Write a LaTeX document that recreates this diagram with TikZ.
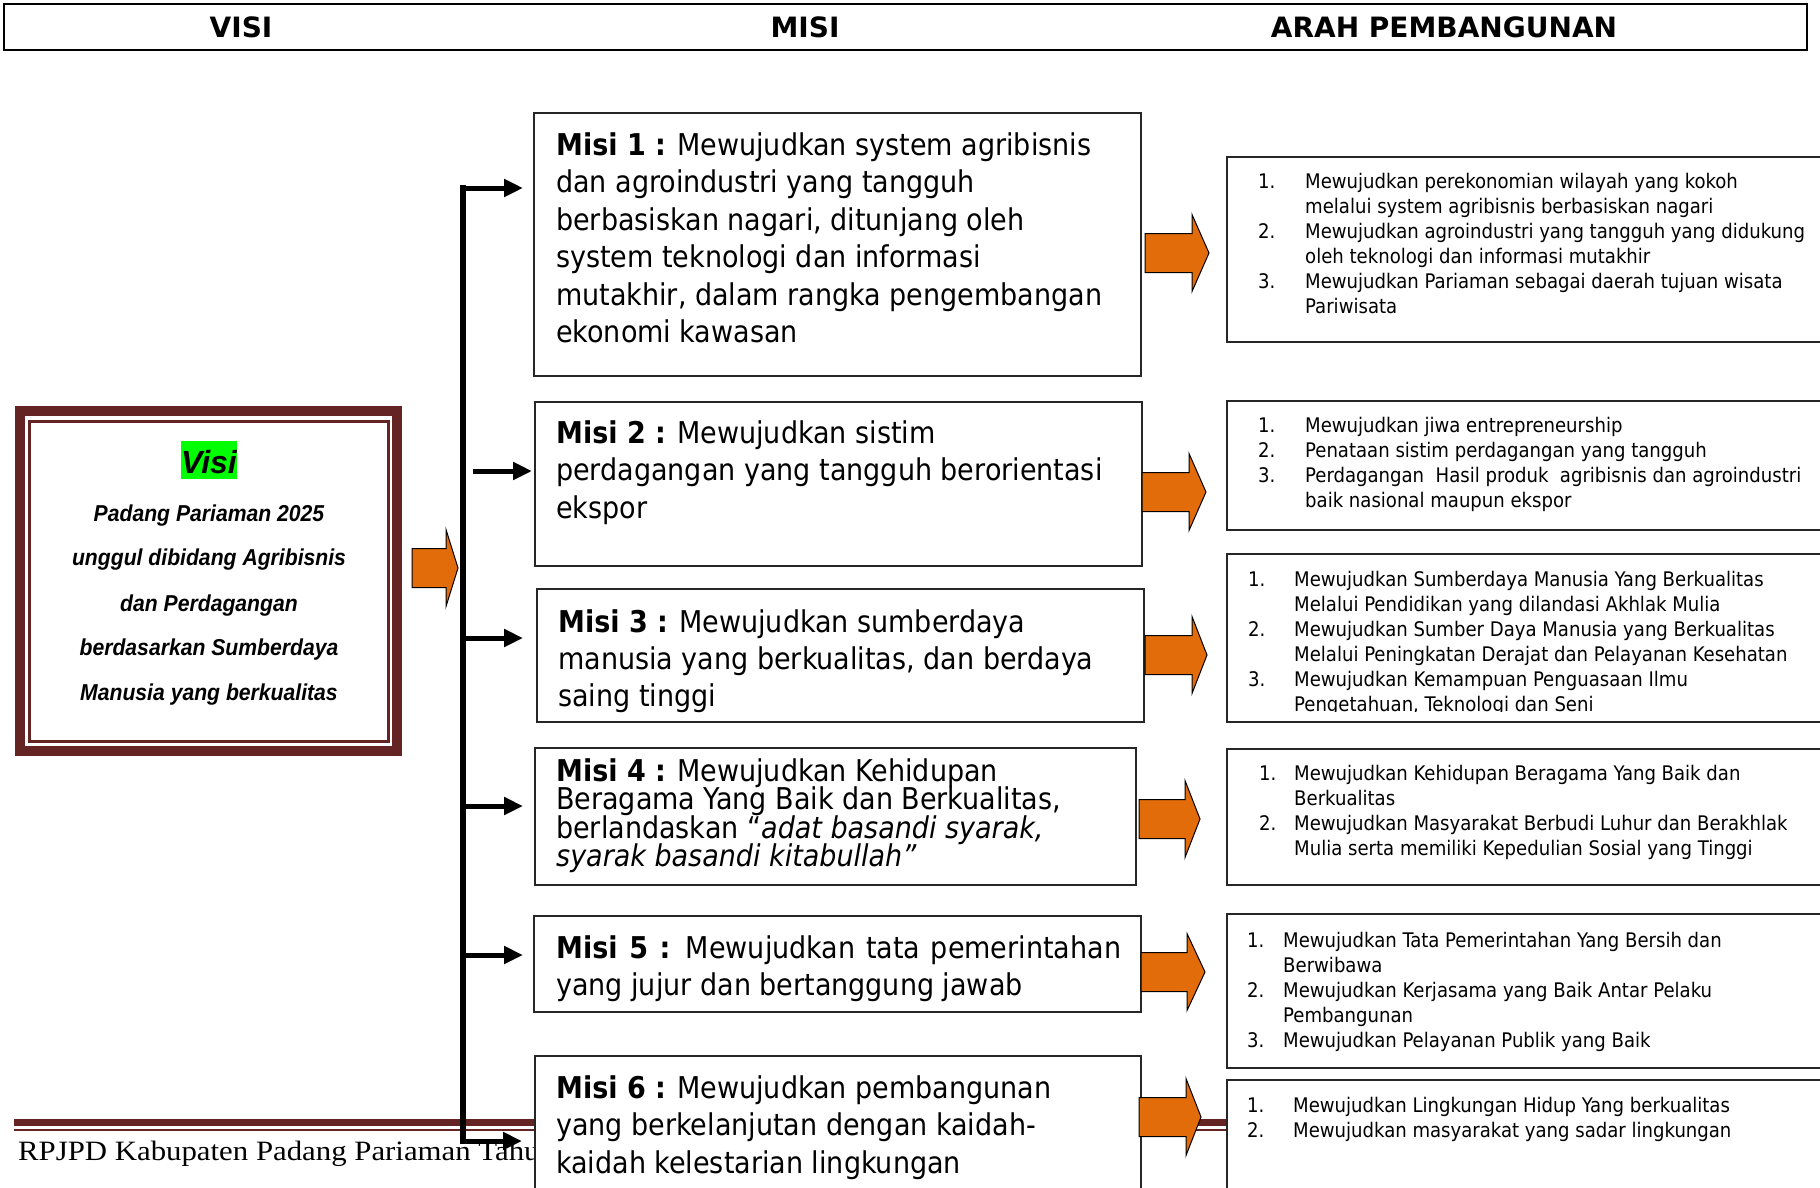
\documentclass[tikz,border=0pt]{standalone}
\usepackage{fontspec}
\usetikzlibrary{arrows.meta}
\newfontfamily\tah{DejaVu Sans Condensed}
\newfontfamily\hdrf{DejaVu Sans}
\newfontfamily\arlf{Liberation Sans}
\newfontfamily\arlc[FakeStretch=0.92]{Liberation Sans}
\newfontfamily\ftrf[FakeStretch=1.1]{Liberation Serif}
\definecolor{vred}{HTML}{632423}
\definecolor{orng}{HTML}{E36C0A}
\definecolor{hlgreen}{HTML}{00FF00}
\newcommand\mlines[1]{\vtop{\lineskiplimit=-100pt\relax\lineskip=0pt\relax\halign{##\hfil\cr#1\crcr}}}
\tikzset{
  mbox/.style={draw=black!85, line width=1.5pt, fill=white, inner sep=0pt, outer sep=0pt, anchor=north west},
  mtext/.style={anchor=base west, inner sep=0pt, font=\tah\fontsize{30}{37.5}\selectfont},
  atext/.style={anchor=base west, inner sep=0pt, font=\tah\fontsize{20.1}{25}\selectfont},
  vtext/.style={anchor=base, inner sep=0pt, font=\arlc\bfseries\itshape\fontsize{23}{28}\selectfont},
  htext/.style={anchor=base, inner sep=0pt, font=\hdrf\bfseries\fontsize{28}{32}\selectfont},
  branch/.style={line width=5pt, -{Triangle[length=19pt,width=17pt]}},
  trunkline/.style={line width=6.5pt, line cap=rect},
  orarr/.style={fill=orng, draw=black, line width=1pt, line join=miter},
}
\newcommand\oarrow[4]{%
  \filldraw[orarr] (#1,#2-19.5) -- (#3,#2-19.5) -- (#3,#2-38.5) -- (#4,#2) -- (#3,#2+38.5) -- (#3,#2+19.5) -- (#1,#2+19.5) -- cycle;}
\begin{document}
\begin{tikzpicture}[x=1pt,y=-1pt]
\useasboundingbox (0,0) rectangle (1820,1188);
\clip (0,0) rectangle (1820,1188);
\fill[white] (0,0) rectangle (1820,1188);

% footer
\draw[vred, line width=7pt] (14,1122.5) -- (1820,1122.5);
\draw[vred, line width=2pt] (14,1129.5) -- (1820,1129.5);
\node[anchor=base west, inner sep=0pt, font=\ftrf\fontsize{28}{32}\selectfont] (ftr) at (18,1160) {RPJPD Kabupaten Padang Pariaman Tahun};

% header
\node[draw=black, line width=2pt, inner sep=0pt, outer sep=0pt, anchor=north west, minimum width=1803pt, minimum height=46pt] (hdr) at (4,4) {};
\node[htext] (hvisi) at (241,38) {VISI};
\node[htext] (hmisi) at (805,38) {MISI};
\node[htext] (harah) at (1444,38) {ARAH PEMBANGUNAN};

% visi box
\node[draw=vred, line width=10pt, inner sep=0pt, outer sep=0pt, minimum width=377pt, minimum height=340pt, fill=white] (visi) at (208.5,581) {};
\node[draw=vred, line width=3pt, inner sep=0pt, outer sep=0pt, minimum width=358.5pt, minimum height=320pt] (visiin) at (208.75,581) {};
\node[fill=hlgreen, inner sep=0pt, minimum width=56pt, minimum height=38pt] (vhl) at (209,460) {};
\node[anchor=base, inner sep=0pt, font=\arlf\bfseries\itshape\fontsize{32}{38}\selectfont] (vt) at (209,473) {Visi};
\node[vtext] (v1) at (209,521) {Padang Pariaman 2025};
\node[vtext] (v2) at (209,565) {unggul dibidang Agribisnis};
\node[vtext] (v3) at (209,611) {dan Perdagangan};
\node[vtext] (v4) at (209,655) {berdasarkan Sumberdaya};
\node[vtext] (v5) at (209,700) {Manusia yang berkualitas};

% misi boxes
\node[mbox, minimum width=607pt, minimum height=263pt] (m1) at (534,113) {};
\node[mbox, minimum width=607pt, minimum height=164pt] (m2) at (535,402) {};
\node[mbox, minimum width=607pt, minimum height=133pt] (m3) at (537,589) {};
\node[mbox, minimum width=601pt, minimum height=137pt] (m4) at (535,748) {};
\node[mbox, minimum width=607pt, minimum height=96pt] (m5) at (534,916) {};
\node[mbox, minimum width=606pt, minimum height=160pt] (m6) at (535,1056) {};

\node[mtext] (m1t) at (556,155) {\mlines{\textbf{Misi 1 :} Mewujudkan system agribisnis\cr dan agroindustri yang tangguh\cr berbasiskan nagari, ditunjang oleh\cr system teknologi dan informasi\cr mutakhir, dalam rangka pengembangan\cr ekonomi kawasan}};
\node[mtext] (m2t) at (556,443) {\mlines{\textbf{Misi 2 :} Mewujudkan sistim\cr perdagangan yang tangguh berorientasi\cr ekspor}};
\node[mtext, font=\tah\fontsize{30}{37}\selectfont] (m3t) at (558,632) {\mlines{\textbf{Misi 3 :} Mewujudkan sumberdaya\cr manusia yang berkualitas, dan berdaya\cr saing tinggi}};
\node[mtext, font=\tah\fontsize{30}{28.5}\selectfont] (m4t) at (556,781) {\mlines{\textbf{Misi 4 :} Mewujudkan Kehidupan\cr Beragama Yang Baik dan Berkualitas,\cr berlandaskan “\textit{adat basandi syarak,}\cr \textit{syarak basandi kitabullah”}}};
\node[mtext, font=\tah\fontsize{30}{37.5}\selectfont] (m5t) at (556,958) {\mlines{\makebox[565pt][s]{\textbf{Misi 5 :} Mewujudkan tata pemerintahan}\cr yang jujur dan bertanggung jawab}};
\node[mtext] (m6t) at (556,1098) {\mlines{\textbf{Misi 6 :} Mewujudkan pembangunan\cr yang berkelanjutan dengan kaidah-\cr kaidah kelestarian lingkungan}};

% arah boxes
\node[mbox, minimum width=603pt, minimum height=185pt] (b1) at (1227,157) {};
\node[mbox, minimum width=603pt, minimum height=129pt] (b2) at (1227,401) {};
\node[mbox, minimum width=603pt, minimum height=168pt] (b3) at (1227,554) {};
\node[mbox, minimum width=603pt, minimum height=136pt] (b4) at (1227,749) {};
\node[mbox, minimum width=603pt, minimum height=154pt] (b5) at (1227,914) {};
\node[mbox, minimum width=603pt, minimum height=140pt] (b6) at (1227,1080) {};

\node[atext] (b1t) at (1258,188) {\begin{tabular}[t]{@{}p{47pt}@{}l@{}}
1. & Mewujudkan perekonomian wilayah yang kokoh\\
   & melalui system agribisnis berbasiskan nagari\\
2. & Mewujudkan agroindustri yang tangguh yang didukung\\
   & oleh teknologi dan informasi mutakhir\\
3. & Mewujudkan Pariaman sebagai daerah tujuan wisata\\
   & Pariwisata\end{tabular}};
\node[atext] (b2t) at (1258,432) {\begin{tabular}[t]{@{}p{47pt}@{}l@{}}
1. & Mewujudkan jiwa entrepreneurship\\
2. & Penataan sistim perdagangan yang tangguh\\
3. & Perdagangan\ \ Hasil produk\ \ agribisnis dan agroindustri\\
   & baik nasional maupun ekspor\end{tabular}};
\begin{scope}
\clip (1227,554) rectangle (1830,711);
\node[atext] (b3t) at (1248,586) {\begin{tabular}[t]{@{}p{46pt}@{}l@{}}
1. & Mewujudkan Sumberdaya Manusia Yang Berkualitas\\
   & Melalui Pendidikan yang dilandasi Akhlak Mulia\\
2. & Mewujudkan Sumber Daya Manusia yang Berkualitas\\
   & Melalui Peningkatan Derajat dan Pelayanan Kesehatan\\
3. & Mewujudkan Kemampuan Penguasaan Ilmu\\
   & Pengetahuan, Teknologi dan Seni\end{tabular}};
\end{scope}
\node[atext] (b4t) at (1259,780) {\begin{tabular}[t]{@{}p{35pt}@{}l@{}}
1. & Mewujudkan Kehidupan Beragama Yang Baik dan\\
   & Berkualitas\\
2. & Mewujudkan Masyarakat Berbudi Luhur dan Berakhlak\\
   & Mulia serta memiliki Kepedulian Sosial yang Tinggi\end{tabular}};
\node[atext] (b5t) at (1247,947) {\begin{tabular}[t]{@{}p{36pt}@{}l@{}}
1. & Mewujudkan Tata Pemerintahan Yang Bersih dan\\
   & Berwibawa\\
2. & Mewujudkan Kerjasama yang Baik Antar Pelaku\\
   & Pembangunan\\
3. & Mewujudkan Pelayanan Publik yang Baik\end{tabular}};
\node[atext] (b6t) at (1247,1112) {\begin{tabular}[t]{@{}p{46pt}@{}l@{}}
1. & Mewujudkan Lingkungan Hidup Yang berkualitas\\
2. & Mewujudkan masyarakat yang sadar lingkungan\end{tabular}};

% orange block arrows
\oarrow{412}{568}{446}{458}
\oarrow{1145}{253}{1192}{1209}
\oarrow{1142}{492}{1189}{1206}
\oarrow{1145}{655}{1192}{1207}
\oarrow{1139}{819}{1185}{1200}
\oarrow{1141}{972}{1187}{1205}
\oarrow{1139}{1117}{1186}{1201}

% trunk and branches
\coordinate (tt) at (463,188);
\coordinate (tb) at (463,1141);
\coordinate (s2) at (473,471);
\coordinate (j3) at (463,638);
\coordinate (j4) at (463,806);
\coordinate (j5) at (463,955);
\draw[trunkline] (tt) -- (tb);
\draw[branch, shorten >=11pt] (tt) -- (tt -| m1.west);
\draw[branch, shorten >=3pt] (s2) -- (s2 -| m2.west);
\draw[branch, shorten >=14pt] (j3) -- (j3 -| m3.west);
\draw[branch, shorten >=12pt] (j4) -- (j4 -| m4.west);
\draw[branch, shorten >=11pt] (j5) -- (j5 -| m5.west);
\draw[branch, shorten >=13pt] (tb) -- (tb -| m6.west);
\end{tikzpicture}
\end{document}
